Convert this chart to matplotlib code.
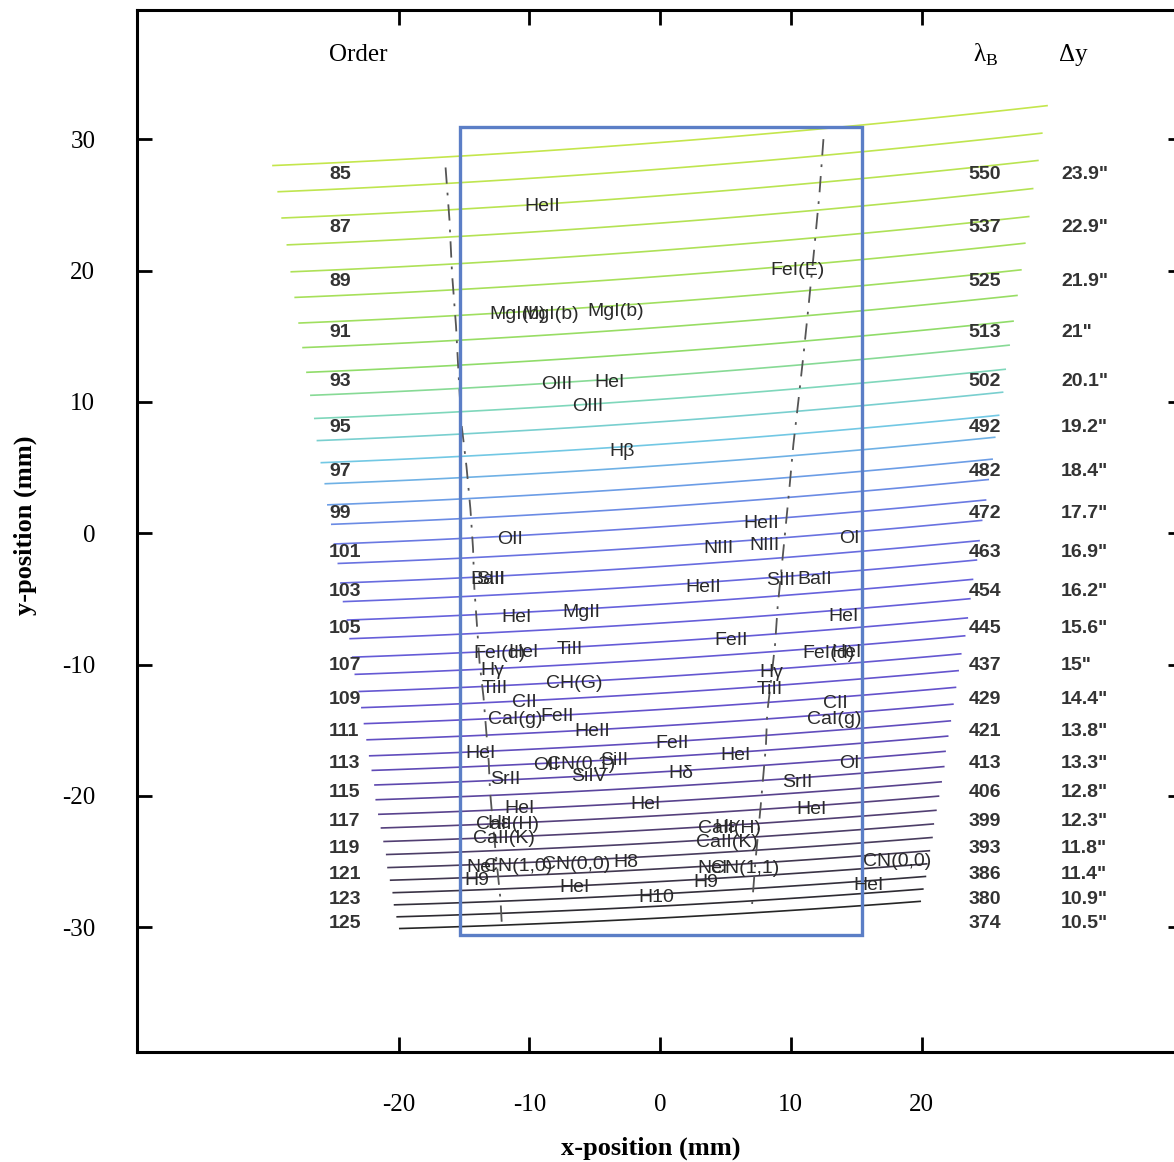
import numpy as np
import matplotlib
matplotlib.use("Agg")
import matplotlib.pyplot as plt
from matplotlib.colors import LinearSegmentedColormap
from matplotlib.patches import Rectangle

plt.rcParams['font.family'] = ['Liberation Serif', 'DejaVu Serif']
plt.rcParams['axes.unicode_minus'] = False
plt.rcParams['mathtext.fontset'] = 'custom'
plt.rcParams['mathtext.rm'] = 'Liberation Serif'

# echelle orders, height of each order trace at x=0 (mm) and half length (mm)
orders = list(range(85, 127))
y_center = [29.76, 27.73, 25.70, 23.62, 21.54, 19.56, 17.58, 15.68, 13.77, 11.99,
            10.20, 8.49, 6.78, 5.15, 3.52, 2.01, 0.49, -1.02, -2.53, -3.97,
            -5.40, -6.84, -8.27, -9.60, -10.93, -12.18, -13.42, -14.67, -15.91, -17.04,
            -18.17, -19.31, -20.44, -21.50, -22.55, -23.56, -24.57, -25.55, -26.52, -27.46,
            -28.39, -29.30]
half_len = [29.6, 29.2, 28.9, 28.5, 28.2, 27.9, 27.6, 27.3, 27.0, 26.7,
            26.4, 26.2, 25.9, 25.6, 25.4, 25.1, 24.9, 24.6, 24.4, 24.2,
            23.9, 23.7, 23.5, 23.3, 23.0, 22.8, 22.6, 22.4, 22.2, 22.0,
            21.8, 21.7, 21.5, 21.3, 21.1, 20.9, 20.8, 20.6, 20.4, 20.3,
            20.1, 19.9]

# labelled orders (every second one)
lab_orders = list(range(85, 126, 2))
blaze_wl = [550, 537, 525, 513, 502, 492, 482, 472, 463, 454, 445,
            437, 429, 421, 413, 406, 399, 393, 386, 380, 374]
delta_y = ['23.9"', '22.9"', '21.9"', '21"', '20.1"', '19.2"', '18.4"', '17.7"',
           '16.9"', '16.2"', '15.6"', '15"', '14.4"', '13.8"', '13.3"', '12.8"',
           '12.3"', '11.8"', '11.4"', '10.9"', '10.5"']

# free spectral range edges (mm) for the labelled orders
fsr_left = [-16.4, -16.1, -15.9, -15.6, -15.4, -15.2, -14.8, -14.5, -14.3, -14.2, -14.0,
            -13.8, -13.5, -13.3, -13.1, -13.0, -12.8, -12.6, -12.4, -12.2, -12.1]
fsr_right = [12.5, 12.2, 11.8, 11.4, 11.0, 10.6, 10.2, 9.9, 9.6, 9.3, 9.0,
             8.8, 8.5, 8.2, 8.1, 7.9, 7.7, 7.5, 7.3, 7.15, 7.0]

# detector outline (mm)
det_x = [-15.30, 15.45]
det_y = [-30.61, 30.91]

# spectral features
feat_name = ['HeII', 'FeI(E)', 'MgI(b)', 'MgI(b)', 'MgI(b)', 'OIII', 'HeI', 'OIII', 'Hβ',
             'HeII', 'NIII', 'NIII', 'OI', 'OII', 'BaII', 'SIII', 'HeII', 'SIII', 'BaII',
             'HeI', 'MgII', 'HeI', 'FeII', 'TiII', 'FeI(d)', 'HeI', 'FeI(d)', 'HeI',
             'Hγ', 'TiII', 'Hγ', 'TiII', 'CH(G)', 'CII', 'CII', 'CaI(g)', 'FeII', 'CaI(g)',
             'HeII', 'FeII', 'HeI', 'HeI', 'OII', 'CN(0,1)', 'SiII', 'SiIV', 'OI', 'Hδ',
             'SrII', 'SrII', 'HeI', 'HeI', 'HeI', 'CaII(H)', 'Hε', 'CaII(K)',
             'NeI', 'CN(1,0)', 'CN(0,0)', 'H8', 'H9', 'HeI', 'H10',
             'CaII(H)', 'Hε', 'CaII(K)', 'NeI', 'CN(1,1)', 'H9', 'CN(0,0)', 'HeI']
feat_x = [-9.02, 10.48, -10.86, -8.34, -3.37, -7.88, -3.82, -5.51, -2.91,
          7.72, 4.44, 8.03, 14.46, -11.47, -13.15, -12.93, 3.29, 9.25, 11.85,
          -10.94, -6.04, 14.07, 5.43, -6.88, -12.31, -10.40, 12.85, 14.30,
          -12.85, -12.62, 8.49, 8.41, -6.58, -10.40, 13.38, -11.09, -7.88, 13.31,
          -5.20, 0.92, -13.69, 5.81, -8.72, -6.04, -3.52, -5.43, 14.46, 1.61,
          -11.85, 10.48, -1.07, -10.71, 11.63, -11.70, -12.30, -11.93,
          -13.61, -10.86, -6.42, -2.60, -14.00, -6.50, -0.31,
          5.28, 5.05, 5.12, 4.05, 6.50, 3.52, 18.13, 15.98]
feat_y = [24.90, 20.03, 16.68, 16.68, 16.90, 11.35, 11.50, 9.67, 6.24,
          0.76, -1.14, -0.91, -0.38, -0.46, -3.50, -3.50, -4.11, -3.58, -3.50,
          -6.40, -6.02, -6.32, -8.15, -8.83, -9.14, -9.06, -9.14, -9.06,
          -10.43, -11.80, -10.58, -11.88, -11.42, -12.87, -12.94, -14.16, -13.93, -14.16,
          -15.08, -15.99, -16.75, -16.90, -17.67, -17.59, -17.28, -18.50, -17.51, -18.27,
          -18.73, -18.96, -20.63, -20.94, -21.02, -22.16, -22.10, -23.22,
          -25.43, -25.36, -25.20, -25.05, -26.42, -26.95, -27.72,
          -22.46, -22.40, -23.53, -25.51, -25.51, -26.57, -24.98, -26.80]

# order trace shape
tilt = np.linspace(0.077, 0.052, len(orders))
curv = 0.0006


def trace_y(i, x):
    return y_center[i] + tilt[i] * x + curv * x ** 2


cmap = LinearSegmentedColormap.from_list('orders', [
    (0.00, '#c4e64c'), (0.12, '#a8e05a'), (0.195, '#8fdc6a'), (0.24, '#80d8b8'),
    (0.29, '#72c8e4'), (0.34, '#6c9ee6'), (0.39, '#6a78e2'), (0.49, '#6660dc'),
    (0.63, '#6452cc'), (0.73, '#5e48b0'), (0.80, '#564080'), (0.88, '#483c5c'),
    (1.00, '#262626')])

fig = plt.figure(figsize=(11.74, 11.62), dpi=100)
ax = fig.add_axes([137 / 1174, 1 - 1052 / 1162, 1046 / 1174, 1042 / 1162])

for i, m in enumerate(orders):
    xs = np.linspace(-half_len[i], half_len[i], 80)
    ax.plot(xs, trace_y(i, xs), color=cmap(i / (len(orders) - 1)), lw=1.2, zorder=2)

# free spectral range edges
for edges in (fsr_left, fsr_right):
    px, py = [], []
    for k, m in enumerate(lab_orders):
        i = orders.index(m)
        px.append(edges[k])
        py.append(trace_y(i, edges[k]) - 0.8)
    ax.plot(px, py, color='#555555', lw=1.3, ls=(0, (9, 5, 1.5, 5)), zorder=3)

ax.add_patch(Rectangle((det_x[0], det_y[0]), det_x[1] - det_x[0], det_y[1] - det_y[0],
                       fill=False, ec='#5b7ec6', lw=2.4, zorder=4))

# order, blaze wavelength and spacing labels
lab_font = ['Liberation Sans', 'DejaVu Sans']
for k, m in enumerate(lab_orders):
    i = orders.index(m)
    ly = trace_y(i, -24.5) - 0.45 * (y_center[i] - y_center[i + 1])
    ax.text(-25.3, ly, str(m), ha='left', va='center', fontsize=14,
            fontweight='bold', family=lab_font, color='#333333', zorder=5)
    ax.text(24.86, ly, str(blaze_wl[k]), ha='center', va='center', fontsize=14,
            fontweight='bold', family=lab_font, color='#333333', zorder=5)
    ax.text(30.66, ly, delta_y[k], ha='left', va='center', fontsize=14,
            fontweight='bold', family=lab_font, color='#333333', zorder=5)

for name, fx, fy in zip(feat_name, feat_x, feat_y):
    ax.text(fx, fy, name, ha='center', va='center', fontsize=14,
            family=lab_font, color='#2a2a2a', zorder=5)

ax.text(-23.1, 36.4, 'Order', ha='center', va='center', fontsize=18)
ax.text(24.9, 36.4, 'λ$_\\mathrm{B}$', ha='center', va='center', fontsize=18)
ax.text(31.6, 36.4, 'Δy', ha='center', va='center', fontsize=18)

ax.set_xlim(-40, 40)
ax.set_ylim(-39.5, 39.85)
ax.set_xticks([-20, -10, 0, 10, 20])
ax.set_yticks([-30, -20, -10, 0, 10, 20, 30])
ax.tick_params(direction='in', length=11, width=2, top=True, right=True,
               labelsize=18, pad=30)
for s in ax.spines.values():
    s.set_linewidth(2.2)

fig.text(651 / 1174, 1 - 1148 / 1162, 'x-position (mm)', ha='center', va='center',
         fontsize=19, fontweight='bold')
fig.text(25 / 1174, 1 - 525 / 1162, 'y-position (mm)', ha='center', va='center',
         fontsize=19, fontweight='bold', rotation=90)

fig.savefig('out.png', dpi=100)
